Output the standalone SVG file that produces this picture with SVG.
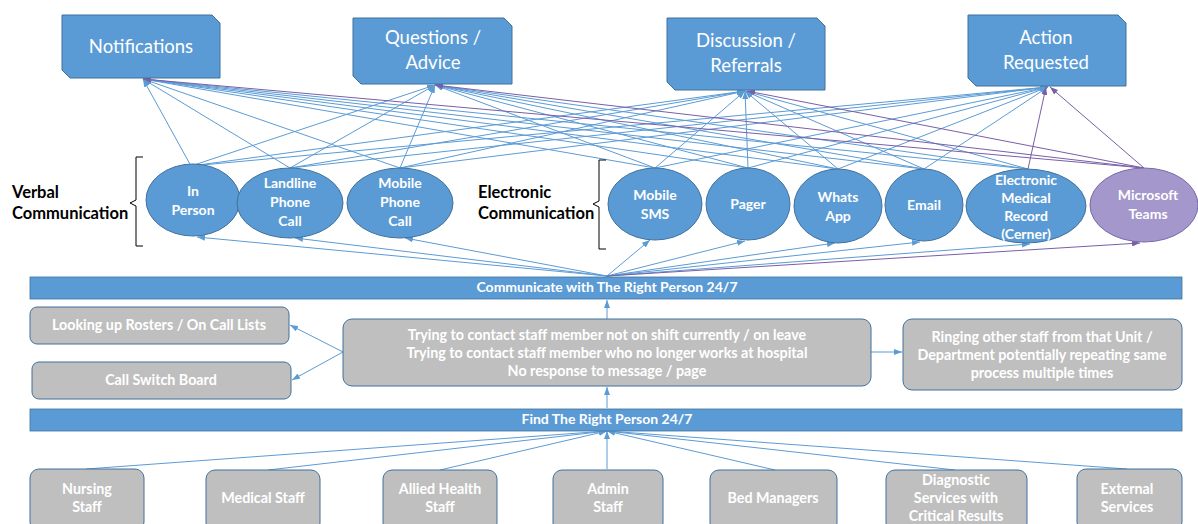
<svg xmlns="http://www.w3.org/2000/svg" width="1198" height="524" viewBox="0 0 1198 524">
<defs>
<marker id="ab" markerWidth="8" markerHeight="6" refX="8" refY="3" orient="auto" markerUnits="userSpaceOnUse"><path d="M0,0 L8,3 L0,6 z" fill="#5b9bd5"/></marker>
<marker id="ap" markerWidth="8" markerHeight="6" refX="8" refY="3" orient="auto" markerUnits="userSpaceOnUse"><path d="M0,0 L8,3 L0,6 z" fill="#7a5ea8"/></marker>
<style>
.hdr{fill:#5b9bd5;stroke:#41719c;stroke-width:1}
.ht{font-family:Lato,"Liberation Sans",sans-serif;font-size:18.5px;fill:#fff;text-anchor:middle}
.el{fill:#5b9bd5;stroke:#41719c;stroke-width:1}
.elp{fill:#a397cb;stroke:#7b6aa8;stroke-width:1}
.et{font-family:Lato,"Liberation Sans",sans-serif;font-size:14px;font-weight:bold;fill:#fff;text-anchor:middle}
.bt{font-family:Lato,"Liberation Sans",sans-serif;font-size:14px;font-weight:bold;fill:#fff;text-anchor:middle}
.lab{font-family:Lato,"Liberation Sans",sans-serif;font-size:16.5px;font-weight:bold;fill:#000}
.bar{fill:#5b9bd5;stroke:#41719c;stroke-width:0.8}
.gb{fill:#bfbfbf;stroke:#41719c;stroke-width:1}
.gt{font-family:Lato,"Liberation Sans",sans-serif;font-size:14.3px;font-weight:bold;fill:#fff;text-anchor:middle}
.b{stroke:#5b9bd5;stroke-width:1;fill:none;marker-end:url(#ab)}
.p{stroke:#7a5ea8;stroke-width:1;fill:none;marker-end:url(#ap)}
.br{stroke:#000;stroke-width:1;fill:none}
</style>
</defs>
<rect width="1198" height="524" fill="#fff"/>

<g id="connectors">
<line class="b" x1="191" y1="166" x2="143" y2="79"/>
<line class="b" x1="191" y1="166" x2="435" y2="85"/>
<line class="b" x1="191" y1="166" x2="745" y2="91"/>
<line class="b" x1="191" y1="166" x2="1048" y2="87"/>
<line class="b" x1="290" y1="168" x2="143" y2="79"/>
<line class="b" x1="290" y1="168" x2="435" y2="85"/>
<line class="b" x1="290" y1="168" x2="745" y2="91"/>
<line class="b" x1="290" y1="168" x2="1048" y2="87"/>
<line class="b" x1="400" y1="168" x2="143" y2="79"/>
<line class="b" x1="400" y1="168" x2="435" y2="85"/>
<line class="b" x1="400" y1="168" x2="745" y2="91"/>
<line class="b" x1="400" y1="168" x2="1048" y2="87"/>
<line class="b" x1="655" y1="168" x2="143" y2="79"/>
<line class="b" x1="655" y1="168" x2="435" y2="85"/>
<line class="b" x1="655" y1="168" x2="745" y2="91"/>
<line class="b" x1="655" y1="168" x2="1048" y2="87"/>
<line class="b" x1="748" y1="168" x2="143" y2="79"/>
<line class="b" x1="748" y1="168" x2="435" y2="85"/>
<line class="b" x1="748" y1="168" x2="745" y2="91"/>
<line class="b" x1="748" y1="168" x2="1048" y2="87"/>
<line class="b" x1="838" y1="169" x2="143" y2="79"/>
<line class="b" x1="838" y1="169" x2="435" y2="85"/>
<line class="b" x1="838" y1="169" x2="745" y2="91"/>
<line class="b" x1="838" y1="169" x2="1048" y2="87"/>
<line class="b" x1="924" y1="169" x2="143" y2="79"/>
<line class="b" x1="924" y1="169" x2="435" y2="85"/>
<line class="b" x1="924" y1="169" x2="745" y2="91"/>
<line class="b" x1="924" y1="169" x2="1048" y2="87"/>
<line class="b" x1="1028" y1="169" x2="143" y2="79"/>
<line class="b" x1="1028" y1="169" x2="435" y2="85"/>
<line class="b" x1="1028" y1="169" x2="745" y2="91"/>
<line class="p" x1="1028" y1="169" x2="1046" y2="87"/>
<line class="p" x1="1144" y1="168" x2="143" y2="79"/>
<line class="p" x1="1144" y1="168" x2="435" y2="85"/>
<line class="p" x1="1144" y1="168" x2="747" y2="91"/>
<line class="p" x1="1144" y1="168" x2="1050" y2="87"/>
<line class="b" x1="607" y1="276" x2="197" y2="237"/>
<line class="b" x1="607" y1="276" x2="295" y2="238"/>
<line class="b" x1="607" y1="276" x2="405" y2="238"/>
<line class="b" x1="607" y1="276" x2="650" y2="240"/>
<line class="b" x1="607" y1="276" x2="745" y2="241"/>
<line class="b" x1="607" y1="276" x2="835" y2="243"/>
<line class="b" x1="607" y1="276" x2="920" y2="242"/>
<line class="b" x1="607" y1="276" x2="1030" y2="244"/>
<line class="p" x1="607" y1="276" x2="1140" y2="243"/>
<line class="b" x1="607" y1="319" x2="607" y2="300"/>
<line class="b" x1="607" y1="408" x2="607" y2="387"/>
<line class="b" x1="343" y1="352" x2="290" y2="325"/>
<line class="b" x1="343" y1="352" x2="292" y2="380"/>
<line class="b" x1="871" y1="352" x2="902" y2="352"/>
<line class="b" x1="86" y1="469" x2="607" y2="431"/>
<line class="b" x1="268" y1="470" x2="607" y2="431"/>
<line class="b" x1="440" y1="470" x2="607" y2="431"/>
<line class="b" x1="607" y1="469" x2="607" y2="431"/>
<line class="b" x1="775" y1="470" x2="607" y2="431"/>
<line class="b" x1="955" y1="470" x2="607" y2="431"/>
<line class="b" x1="1127" y1="469" x2="607" y2="431"/>
</g>

<g id="notifications"><path class="hdr" d="M62,15 H212 L220,23 V78 H70 L62,70 Z"/><text class="ht" x="141" y="53">Notifications</text></g>
<g id="questions"><path class="hdr" d="M353,18 H504 L512,26 V84 H361 L353,76 Z"/><text class="ht" x="433" y="44">Questions /</text><text class="ht" x="433" y="69">Advice</text></g>
<g id="discussion"><path class="hdr" d="M667,18 H817 L825,26 V90 H675 L667,82 Z"/><text class="ht" x="746" y="47">Discussion /</text><text class="ht" x="746" y="72">Referrals</text></g>
<g id="action"><path class="hdr" d="M968,15 H1118 L1126,23 V86 H976 L968,78 Z"/><text class="ht" x="1046" y="44">Action</text><text class="ht" x="1046" y="69">Requested</text></g>

<g id="verbal-label"><text class="lab" x="12" y="198">Verbal</text><text class="lab" x="12" y="219">Communication</text>
<path class="br" d="M143,157 H136 V200 L130,203 L136,206 V246 H143"/></g>
<g id="electronic-label"><text class="lab" x="478" y="198">Electronic</text><text class="lab" x="478" y="219">Communication</text>
<path class="br" d="M606,160 H599 V201 L593,204 L599,207 V249 H606"/></g>

<g id="in-person"><ellipse class="el" cx="193" cy="200" rx="47" ry="36"/><text class="et" x="193" y="196">In</text><text class="et" x="193" y="215">Person</text></g>
<g id="landline"><ellipse class="el" cx="290" cy="203" rx="53" ry="35"/><text class="et" x="290" y="188">Landline</text><text class="et" x="290" y="207">Phone</text><text class="et" x="290" y="226">Call</text></g>
<g id="mobile-phone"><ellipse class="el" cx="400" cy="203" rx="53" ry="35"/><text class="et" x="400" y="188">Mobile</text><text class="et" x="400" y="207">Phone</text><text class="et" x="400" y="226">Call</text></g>
<g id="mobile-sms"><ellipse class="el" cx="655" cy="204" rx="47" ry="36"/><text class="et" x="655" y="200">Mobile</text><text class="et" x="655" y="219">SMS</text></g>
<g id="pager"><ellipse class="el" cx="748" cy="204" rx="42" ry="36"/><text class="et" x="748" y="209">Pager</text></g>
<g id="whatsapp"><ellipse class="el" cx="838" cy="206" rx="44" ry="37"/><text class="et" x="838" y="202">Whats</text><text class="et" x="838" y="221">App</text></g>
<g id="email"><ellipse class="el" cx="924" cy="205" rx="39" ry="36"/><text class="et" x="924" y="210">Email</text></g>
<g id="emr"><ellipse class="el" cx="1026" cy="206" rx="60" ry="37"/><text class="et" x="1026" y="185">Electronic</text><text class="et" x="1026" y="203">Medical</text><text class="et" x="1026" y="221">Record</text><text class="et" x="1026" y="239">(Cerner)</text></g>
<g id="teams"><ellipse class="elp" cx="1144" cy="205" rx="54" ry="37"/><text class="et" x="1148" y="200">Microsoft</text><text class="et" x="1148" y="219">Teams</text></g>

<g id="communicate-bar"><rect class="bar" x="30" y="277" width="1152" height="22"/><text class="bt" x="607" y="292">Communicate with The Right Person 24/7</text></g>

<g id="rosters"><rect class="gb" x="30" y="307" width="259" height="37" rx="7"/><text class="gt" x="159" y="330">Looking up Rosters / On Call Lists</text></g>
<g id="switchboard"><rect class="gb" x="32" y="362" width="259" height="37" rx="7"/><text class="gt" x="161" y="385">Call Switch Board</text></g>
<g id="trying"><rect class="gb" x="343" y="319" width="528" height="67" rx="9"/><text class="gt" x="607" y="340">Trying to contact staff member not on shift currently / on leave</text><text class="gt" x="607" y="358">Trying to contact staff member who no longer works at hospital</text><text class="gt" x="607" y="376">No response to message / page</text></g>
<g id="ringing"><rect class="gb" x="903" y="319" width="279" height="71" rx="9"/><text class="gt" x="1042" y="342" font-size="14.6">Ringing other staff from that Unit /</text><text class="gt" x="1042" y="360" font-size="14.6">Department potentially repeating same</text><text class="gt" x="1042" y="378" font-size="14.6">process multiple times</text></g>

<g id="find-bar"><rect class="bar" x="30" y="409" width="1152" height="22"/><text class="bt" x="607" y="424">Find The Right Person 24/7</text></g>

<g id="nursing"><rect class="gb" x="30" y="469" width="114" height="62" rx="9"/><text class="gt" x="87" y="494">Nursing</text><text class="gt" x="87" y="512">Staff</text></g>
<g id="medical"><rect class="gb" x="206" y="470" width="114" height="62" rx="9"/><text class="gt" x="263" y="503">Medical Staff</text></g>
<g id="allied"><rect class="gb" x="383" y="470" width="114" height="62" rx="9"/><text class="gt" x="440" y="494">Allied Health</text><text class="gt" x="440" y="512">Staff</text></g>
<g id="admin"><rect class="gb" x="553" y="470" width="110" height="62" rx="9"/><text class="gt" x="608" y="494">Admin</text><text class="gt" x="608" y="512">Staff</text></g>
<g id="bed"><rect class="gb" x="710" y="470" width="127" height="62" rx="9"/><text class="gt" x="773" y="503">Bed Managers</text></g>
<g id="diagnostic"><rect class="gb" x="886" y="470" width="141" height="62" rx="9"/><text class="gt" x="956" y="485">Diagnostic</text><text class="gt" x="956" y="503">Services with</text><text class="gt" x="956" y="521">Critical Results</text></g>
<g id="external"><rect class="gb" x="1077" y="469" width="105" height="62" rx="9"/><text class="gt" x="1127" y="494">External</text><text class="gt" x="1127" y="512">Services</text></g>
</svg>
